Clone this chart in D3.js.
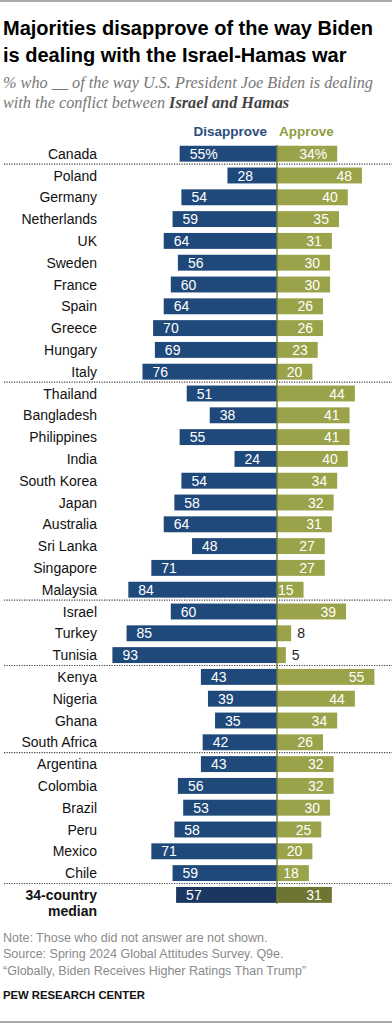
<!DOCTYPE html>
<html><head><meta charset="utf-8">
<script src="https://cdn.jsdelivr.net/npm/d3@7"></script>
<style>
html,body{margin:0;padding:0;background:#fff;}
svg{display:block;}
</style></head>
<body>
<svg id="chart" width="392" height="1024"></svg>
<script>
const countries = ["Canada","Poland","Germany","Netherlands","UK","Sweden","France","Spain","Greece","Hungary","Italy",
  "Thailand","Bangladesh","Philippines","India","South Korea","Japan","Australia","Sri Lanka","Singapore","Malaysia",
  "Israel","Turkey","Tunisia","Kenya","Nigeria","Ghana","South Africa",
  "Argentina","Colombia","Brazil","Peru","Mexico","Chile","34-country median"];
const disapprove = [55,28,54,59,64,56,60,64,70,69,76, 51,38,55,24,54,58,64,48,71,84, 60,85,93, 43,39,35,42, 43,56,53,58,71,59, 57];
const approve    = [34,48,40,35,31,30,30,26,26,23,20, 44,41,41,40,34,32,31,27,27,15, 39,8,5, 55,44,34,26, 32,32,30,25,20,18, 31];
const separatorsAfter = ["Canada","Italy","Malaysia","Tunisia","South Africa","Chile"];

const svg = d3.select("#chart");
const W = 392;
const sans = "'Liberation Sans', Arial, sans-serif";
const serif = "'Liberation Serif', 'Times New Roman', serif";

// frame lines
svg.append("line").attr("x1",0).attr("x2",W).attr("y1",1).attr("y2",1).attr("stroke","#8c8c8c").attr("stroke-width",1.5);
svg.append("line").attr("x1",0).attr("x2",W).attr("y1",1022).attr("y2",1022).attr("stroke","#8c8c8c").attr("stroke-width",1.5);

// title
const title = svg.append("text").attr("font-family",sans).attr("font-weight","bold").attr("font-size",20).attr("fill","#000");
title.append("tspan").attr("x",3).attr("y",35).text("Majorities disapprove of the way Biden");
title.append("tspan").attr("x",3).attr("y",62).text("is dealing with the Israel-Hamas war");

// subtitle
const sub = svg.append("text").attr("font-family",serif).attr("font-style","italic").attr("font-size",16.5).attr("fill","#777");
sub.append("tspan").attr("x",3).attr("y",88).text("% who __ of the way U.S. President Joe Biden is dealing");
const sub2 = sub.append("tspan").attr("x",3).attr("y",108);
sub2.text("with the conflict between ");
sub.append("tspan").attr("font-weight","bold").attr("fill","#444").text("Israel and Hamas");

// scales
const cx = 277;
const step = 21.8;
const y0 = 153.7 - step/2;
const y = d3.scaleBand().domain(countries).range([y0, y0 + step*countries.length]).paddingInner(0.27).paddingOuter(0.135);
const x = d3.scaleLinear().domain([0,100]).range([0,177]);

const colD = "#20497b", colA = "#9aa34a", colDm = "#1b3760", colAm = "#6e7532";

// headers
svg.append("text").attr("x",267).attr("y",136).attr("text-anchor","end").attr("font-family",sans).attr("font-weight","bold")
  .attr("font-size",13.5).attr("fill","#2b4d7d").text("Disapprove");
svg.append("text").attr("x",279).attr("y",136).attr("text-anchor","start").attr("font-family",sans).attr("font-weight","bold")
  .attr("font-size",13.5).attr("fill","#8f9b3e").text("Approve");

const rows = countries.map((c,i)=>({c, d:disapprove[i], a:approve[i], med: c==="34-country median"}));

const g = svg.append("g");
// bars
g.selectAll("rect.d").data(rows).join("rect").attr("class","d")
  .attr("x", r=>cx - x(r.d)).attr("y", r=>y(r.c)).attr("width", r=>x(r.d)).attr("height", y.bandwidth())
  .attr("fill", r=>r.med?colDm:colD);
g.selectAll("rect.a").data(rows).join("rect").attr("class","a")
  .attr("x", cx).attr("y", r=>y(r.c)).attr("width", r=>x(r.a)).attr("height", y.bandwidth())
  .attr("fill", r=>r.med?colAm:colA);

// value labels
const mid = r => y(r.c) + y.bandwidth()/2 + 5;
g.selectAll("text.dv").data(rows).join("text").attr("class","dv")
  .attr("x", r=>cx - x(r.d) + 10).attr("y", mid).attr("font-family",sans).attr("font-size",14).attr("fill","#fff")
  .text((r,i)=> i===0 ? r.d+"%" : r.d);
g.selectAll("text.av").data(rows).join("text").attr("class","av")
  .attr("x", r=> r.a < 12 ? cx + x(r.a) + 6 : cx + x(r.a) - 10)
  .attr("text-anchor", r=> r.a < 12 ? "start" : "end")
  .attr("y", mid).attr("font-family",sans).attr("font-size",14)
  .attr("fill", r=> r.a < 12 ? "#222" : "#fff")
  .text((r,i)=> i===0 ? r.a+"%" : r.a);

// country labels
g.selectAll("text.lab").data(rows.filter(r=>!r.med)).join("text").attr("class","lab")
  .attr("x",97).attr("y", mid).attr("text-anchor","end").attr("font-family",sans).attr("font-size",14).attr("fill","#111")
  .text(r=>r.c);
const medRow = rows[rows.length-1];
const ml = g.append("text").attr("text-anchor","end").attr("font-family",sans).attr("font-size",14).attr("font-weight","bold").attr("fill","#111");
ml.append("tspan").attr("x",97).attr("y", mid(medRow)).text("34-country");
ml.append("tspan").attr("x",97).attr("y", mid(medRow)+16).text("median");

// separators
separatorsAfter.forEach(c=>{
  const yy = y(c) + y.bandwidth() + (step - y.bandwidth())/2 - 0.5;
  svg.append("line").attr("x1",4).attr("x2",W).attr("y1",yy).attr("y2",yy)
    .attr("stroke","#444").attr("stroke-width",1.2).attr("stroke-dasharray","1.2,1.3");
});

// center axis
svg.append("line").attr("x1",cx).attr("x2",cx).attr("y1",145).attr("y2",y("34-country median")+y.bandwidth()+1)
  .attr("stroke","#6f7a3a").attr("stroke-width",1.5);

// footer
const foot = svg.append("text").attr("font-family",sans).attr("font-size",12.5).attr("fill","#8a8a8a");
foot.append("tspan").attr("x",3).attr("y",942).text("Note: Those who did not answer are not shown.");
foot.append("tspan").attr("x",3).attr("y",958).text("Source: Spring 2024 Global Attitudes Survey. Q9e.");
foot.append("tspan").attr("x",3).attr("y",975).text("\u201cGlobally, Biden Receives Higher Ratings Than Trump\u201d");
svg.append("text").attr("x",3).attr("y",999).attr("font-family",sans).attr("font-size",11.3).attr("font-weight","bold").attr("fill","#111")
  .text("PEW RESEARCH CENTER");

// fit subtitle line widths to reference
(function(){
  const t1 = sub.select("tspan").node();
  const w = t1.getComputedTextLength();
  const target = 370;
  const fs = 16.5 * target / w;
  sub.attr("font-size", Math.min(fs, 17));
})();
</script>
</body></html>
